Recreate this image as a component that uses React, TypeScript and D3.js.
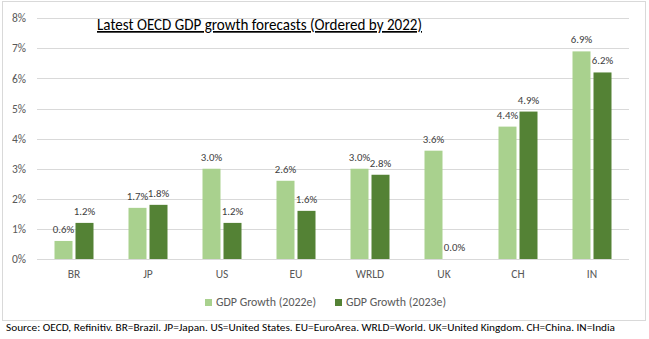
import React from "react";
import * as d3 from "d3";

const categories = ["BR", "JP", "US", "EU", "WRLD", "UK", "CH", "IN"];
const growth2022 = [0.6, 1.7, 3.0, 2.6, 3.0, 3.6, 4.4, 6.9];
const growth2023 = [1.2, 1.8, 1.2, 1.6, 2.8, 0.0, 4.9, 6.2];
const seriesNames = ["GDP Growth (2022e)", "GDP Growth (2023e)"];
const seriesColors = ["#A9D18E", "#548235"];
const yTicks = [0, 1, 2, 3, 4, 5, 6, 7, 8];
const title = "Latest OECD GDP growth forecasts (Ordered by 2022)";
const footer =
  "Source: OECD, Refinitiv. BR=Brazil. JP=Japan. US=United States. EU=EuroArea. WRLD=World. UK=United Kingdom. CH=China. IN=India";

const W = 649;
const H = 339;
const FONT = "Carlito, Calibri, 'Noto Sans', 'Liberation Sans', sans-serif";

export default function App() {
  const plot = { left: 37, right: 629, top: 18.3, bottom: 259 };
  const x0 = d3
    .scaleBand<string>()
    .domain(categories)
    .range([plot.left, plot.right])
    .paddingInner(0.473)
    .paddingOuter(0.2365);
  const x1 = d3
    .scaleBand<number>()
    .domain([0, 1])
    .range([0, x0.bandwidth()])
    .paddingInner(3 / 21);
  const y = d3.scaleLinear().domain([0, 8]).range([plot.bottom, plot.top]);
  const series = [growth2022, growth2023];

  return (
    <div style={{ position: "fixed", left: 0, top: 0 }}>
      <svg width={W} height={H} style={{ display: "block", background: "#fff" }} fontFamily={FONT}>
        <rect x={2.5} y={1.5} width={643} height={319} fill="#fff" stroke="#D9D9D9" />
        {yTicks.map((t) => (
          <g key={t}>
            <line x1={plot.left} x2={plot.right} y1={Math.round(y(t)) + 0.5} y2={Math.round(y(t)) + 0.5} stroke="#D9D9D9" strokeWidth={1} />
            <text x={26} y={y(t)} dy="0.35em" textAnchor="end" fontSize={11.5} fill="#595959">
              {t}%
            </text>
          </g>
        ))}
        <text x={97} y={30} fontSize={17} fill="#000" textDecoration="underline" textLength={325} lengthAdjust="spacingAndGlyphs">
          {title}
        </text>
        {categories.map((c, i) => (
          <g key={c} transform={`translate(${x0(c)},0)`}>
            {series.map((s, j) => {
              const v = s[i];
              const bx = x1(j)!;
              const bw = x1.bandwidth();
              return (
                <g key={j}>
                  <rect x={bx} y={y(v)} width={bw} height={y(0) - y(v)} fill={seriesColors[j]} />
                  <text x={bx + bw / 2} y={y(v) - 8} textAnchor="middle" fontSize={10.8} fill="#404040">
                    {v.toFixed(1)}%
                  </text>
                </g>
              );
            })}
            <text x={x0.bandwidth() / 2} y={278} textAnchor="middle" fontSize={11.5} fill="#595959">
              {c}
            </text>
          </g>
        ))}
        {seriesNames.map((n, j) => {
          const lx = j === 0 ? 205 : 335;
          return (
            <g key={n}>
              <rect x={lx} y={299} width={7} height={7} fill={seriesColors[j]} />
              <text x={lx + 11} y={306} fontSize={12} fill="#595959" textLength={100} lengthAdjust="spacingAndGlyphs">
                {n}
              </text>
            </g>
          );
        })}
        <text x={6} y={331} fontSize={11} fill="#000" textLength={609} lengthAdjust="spacingAndGlyphs">
          {footer}
        </text>
      </svg>
    </div>
  );
}
